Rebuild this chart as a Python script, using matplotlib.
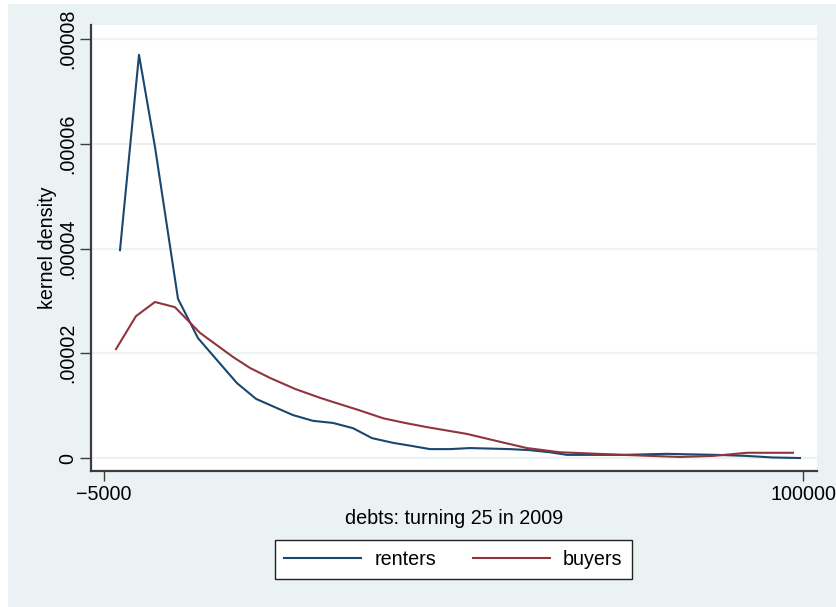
"""Kernel density of debts for people turning 25 in 2009: renters vs buyers.

Stata s2color look-alike. Writes out.png.
"""
import matplotlib

matplotlib.use("Agg")
import matplotlib.pyplot as plt
from matplotlib.patches import Rectangle

plt.rcParams["font.family"] = ["Liberation Sans", "DejaVu Sans"]

# curve vertices (debts, density)
RENTERS_X = [-2597, 257, 2660, 6115, 9119, 11973, 14977, 17831, 20684, 23388,
             26392, 29396, 32400, 35254, 38408, 41262, 43965, 46969, 49973,
             52977, 55981, 58985, 61989, 64543, 67997, 72954, 76258, 79563,
             83017, 87073, 91579, 95484, 99540]
RENTERS_Y = [3.97e-5, 7.70e-5, 5.94e-5, 3.04e-5, 2.29e-5, 1.87e-5, 1.43e-5,
             1.13e-5, 9.7e-6, 8.2e-6, 7.1e-6, 6.7e-6, 5.7e-6, 3.8e-6, 2.9e-6,
             2.3e-6, 1.7e-6, 1.7e-6, 1.9e-6, 1.8e-6, 1.7e-6, 1.5e-6, 1.1e-6,
             0.6e-6, 0.6e-6, 0.6e-6, 0.7e-6, 0.8e-6, 0.7e-6, 0.6e-6, 0.4e-6,
             0.1e-6, 0.0]
BUYERS_X = [-3198, -194, 2660, 5664, 9419, 14376, 16929, 19933, 23688, 27443,
            29396, 33150, 36905, 40210, 43514, 49522, 54479, 58534, 63491,
            65443, 72954, 81515, 86472, 91579, 94583, 98488]
BUYERS_Y = [2.08e-5, 2.71e-5, 2.98e-5, 2.88e-5, 2.39e-5, 1.93e-5, 1.72e-5,
            1.53e-5, 1.32e-5, 1.15e-5, 1.07e-5, 9.2e-6, 7.6e-6, 6.7e-6, 5.9e-6,
            4.6e-6, 3.1e-6, 1.9e-6, 1.1e-6, 1.0e-6, 0.6e-6, 0.2e-6, 0.4e-6,
            1.0e-6, 1.0e-6, 1.0e-6]

Y_TICKS = [0, 0.00002, 0.00004, 0.00006, 0.00008]
Y_LABELS = ["0", ".00002", ".00004", ".00006", ".00008"]
X_TICKS = [-5000, 100000]
X_LABELS = ["\u22125000", "100000"]

NAVY = "#1a476f"
MAROON = "#90353b"
BLUISH = "#eaf2f3"
AXIS = "#3c3c3c"
FS = 14.2

W, H = 837, 607
fig = plt.figure(figsize=(W / 100, H / 100), dpi=100, facecolor="white")
# graph region background, behind the plot region
fig.patches.append(Rectangle((8 / W, 0), 1 - 8 / W, 1 - 4 / H,
                             transform=fig.transFigure, facecolor=BLUISH,
                             edgecolor="none", zorder=-10))

ax = fig.add_axes([91 / W, 1 - 471 / H, (817 - 91) / W, (471 - 25) / H])
ax.set_facecolor("white")

ax.plot(RENTERS_X, RENTERS_Y, color=NAVY, linewidth=1.5, label="renters",
        zorder=3)
ax.plot(BUYERS_X, BUYERS_Y, color=MAROON, linewidth=1.5, label="buyers",
        zorder=3)

ax.set_xlim(-6953, 102100)
ax.set_ylim(-2.48e-6, 8.27e-5)

ax.set_yticks(Y_TICKS)
ax.set_yticklabels(Y_LABELS, rotation=90, va="center", fontsize=FS)
ax.set_xticks(X_TICKS)
ax.set_xticklabels(X_LABELS, fontsize=FS)
ax.tick_params(axis="both", length=8, width=1.0, color=AXIS, pad=2)
ax.tick_params(axis="x", length=7, pad=3)

ax.yaxis.grid(True, color=BLUISH, linewidth=1.6, zorder=1)
ax.set_axisbelow(True)

for side in ("top", "right"):
    ax.spines[side].set_visible(False)
for side in ("left", "bottom"):
    ax.spines[side].set_color(AXIS)
    ax.spines[side].set_linewidth(1.6)

ax.set_xlabel("debts: turning 25 in 2009", fontsize=FS, labelpad=4)
ax.set_ylabel("kernel density", fontsize=FS, labelpad=1)

leg = fig.legend(loc="center", bbox_to_anchor=(453.5 / W, 1 - 559.5 / H),
                 ncol=2, fontsize=FS, frameon=True, fancybox=False,
                 framealpha=1.0, handlelength=3.9, handletextpad=0.65,
                 columnspacing=1.9, borderpad=0.5)
leg.get_frame().set_edgecolor("#222222")
leg.get_frame().set_linewidth(1.0)

fig.savefig("out.png", dpi=100, facecolor=fig.get_facecolor())
